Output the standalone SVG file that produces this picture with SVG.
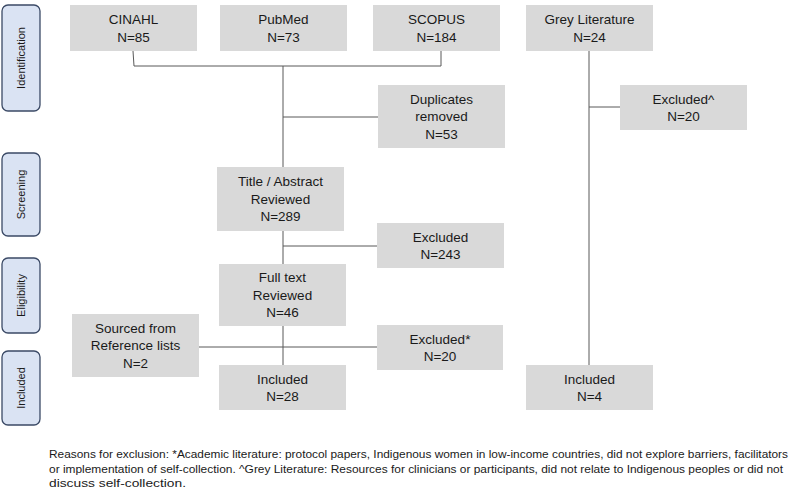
<svg xmlns="http://www.w3.org/2000/svg" width="794" height="489" viewBox="0 0 794 489">
<style>
.box{fill:#d9d9d9;}
.t{font-family:"Liberation Sans",Arial,sans-serif;font-size:13.5px;fill:#1a1a1a;text-anchor:middle;}
.side{fill:#dae3f3;stroke:#3b4a66;stroke-width:1.3;}
.st{font-family:"Liberation Sans",Arial,sans-serif;font-size:11px;fill:#1a1a1a;text-anchor:middle;}
.ln{fill:none;stroke:#595959;stroke-width:1;}
.fn{font-family:"Liberation Sans",Arial,sans-serif;font-size:11px;fill:#1a1a1a;}
</style>
<rect width="794" height="489" fill="#ffffff"/>
<g id="stage-identification"><rect class="side" x="2" y="5" width="38" height="106" rx="6"/><text class="st" transform="translate(25,58) rotate(-90)">Identification</text></g>
<g id="stage-screening"><rect class="side" x="2" y="153" width="38" height="83" rx="6"/><text class="st" transform="translate(25,194.5) rotate(-90)">Screening</text></g>
<g id="stage-eligibility"><rect class="side" x="2" y="258" width="38" height="75" rx="6"/><text class="st" transform="translate(25,295.5) rotate(-90)">Eligibility</text></g>
<g id="stage-included"><rect class="side" x="2" y="351" width="38" height="74" rx="6"/><text class="st" transform="translate(25,388) rotate(-90)">Included</text></g>
<g id="connectors">
<path class="ln" d="M133,51 L134,66 L441,66 L441,51"/>
<path class="ln" d="M283,66 L283,167"/>
<path class="ln" d="M283,117 L378,117"/>
<path class="ln" d="M283,231 L283,264"/>
<path class="ln" d="M283,246 L377,246"/>
<path class="ln" d="M283,326 L283,365"/>
<path class="ln" d="M199,347 L377,347"/>
<path class="ln" d="M589,51 L589,365"/>
<path class="ln" d="M589,107 L620,107"/>
</g>
<g id="cinahl"><rect class="box" x="70" y="5" width="127" height="46"/><text class="t" x="133.5" y="24">CINAHL</text><text class="t" x="133.5" y="41.5">N=85</text></g>
<g id="pubmed"><rect class="box" x="220" y="5" width="127" height="46"/><text class="t" x="283.5" y="24">PubMed</text><text class="t" x="283.5" y="41.5">N=73</text></g>
<g id="scopus"><rect class="box" x="373" y="5" width="127" height="46"/><text class="t" x="436.5" y="24">SCOPUS</text><text class="t" x="436.5" y="41.5">N=184</text></g>
<g id="grey"><rect class="box" x="526" y="5" width="127" height="46"/><text class="t" x="589.5" y="24">Grey Literature</text><text class="t" x="589.5" y="41.5">N=24</text></g>
<g id="duplicates"><rect class="box" x="378" y="85" width="127" height="63"/><text class="t" x="441.5" y="103.5">Duplicates</text><text class="t" x="441.5" y="121">removed</text><text class="t" x="441.5" y="138.5">N=53</text></g>
<g id="excluded-grey"><rect class="box" x="620" y="85" width="127" height="45"/><text class="t" x="683.5" y="103.5">Excluded^</text><text class="t" x="683.5" y="121">N=20</text></g>
<g id="title-abstract"><rect class="box" x="217" y="167" width="127" height="64"/><text class="t" x="280.5" y="186">Title / Abstract</text><text class="t" x="280.5" y="203.5">Reviewed</text><text class="t" x="280.5" y="221">N=289</text></g>
<g id="excluded-243"><rect class="box" x="377" y="223" width="127" height="45"/><text class="t" x="440.5" y="241.5">Excluded</text><text class="t" x="440.5" y="259">N=243</text></g>
<g id="full-text"><rect class="box" x="219" y="264" width="127" height="62"/><text class="t" x="282.5" y="282">Full text</text><text class="t" x="282.5" y="299.5">Reviewed</text><text class="t" x="282.5" y="317">N=46</text></g>
<g id="sourced"><rect class="box" x="72" y="314" width="127" height="63"/><text class="t" x="135.5" y="332.5">Sourced from</text><text class="t" x="135.5" y="350">Reference lists</text><text class="t" x="135.5" y="367.5">N=2</text></g>
<g id="excluded-academic"><rect class="box" x="377" y="325" width="126" height="45"/><text class="t" x="440" y="343.5">Excluded*</text><text class="t" x="440" y="361">N=20</text></g>
<g id="included-28"><rect class="box" x="219" y="365" width="127" height="45"/><text class="t" x="282.5" y="383.5">Included</text><text class="t" x="282.5" y="401">N=28</text></g>
<g id="included-4"><rect class="box" x="526" y="365" width="127" height="45"/><text class="t" x="589.5" y="383.5">Included</text><text class="t" x="589.5" y="401">N=4</text></g>
<g id="footnote">
<text class="fn" x="49" y="458" textLength="739" lengthAdjust="spacingAndGlyphs">Reasons for exclusion: *Academic literature: protocol papers, Indigenous women in low-income countries, did not explore barriers, facilitators</text>
<text class="fn" x="49" y="472.5" textLength="734" lengthAdjust="spacingAndGlyphs">or implementation of self-collection. ^Grey Literature: Resources for clinicians or participants, did not relate to Indigenous peoples or did not</text>
<text class="fn" x="49" y="487" textLength="137" lengthAdjust="spacingAndGlyphs">discuss self-collection.</text>
</g>
</svg>
